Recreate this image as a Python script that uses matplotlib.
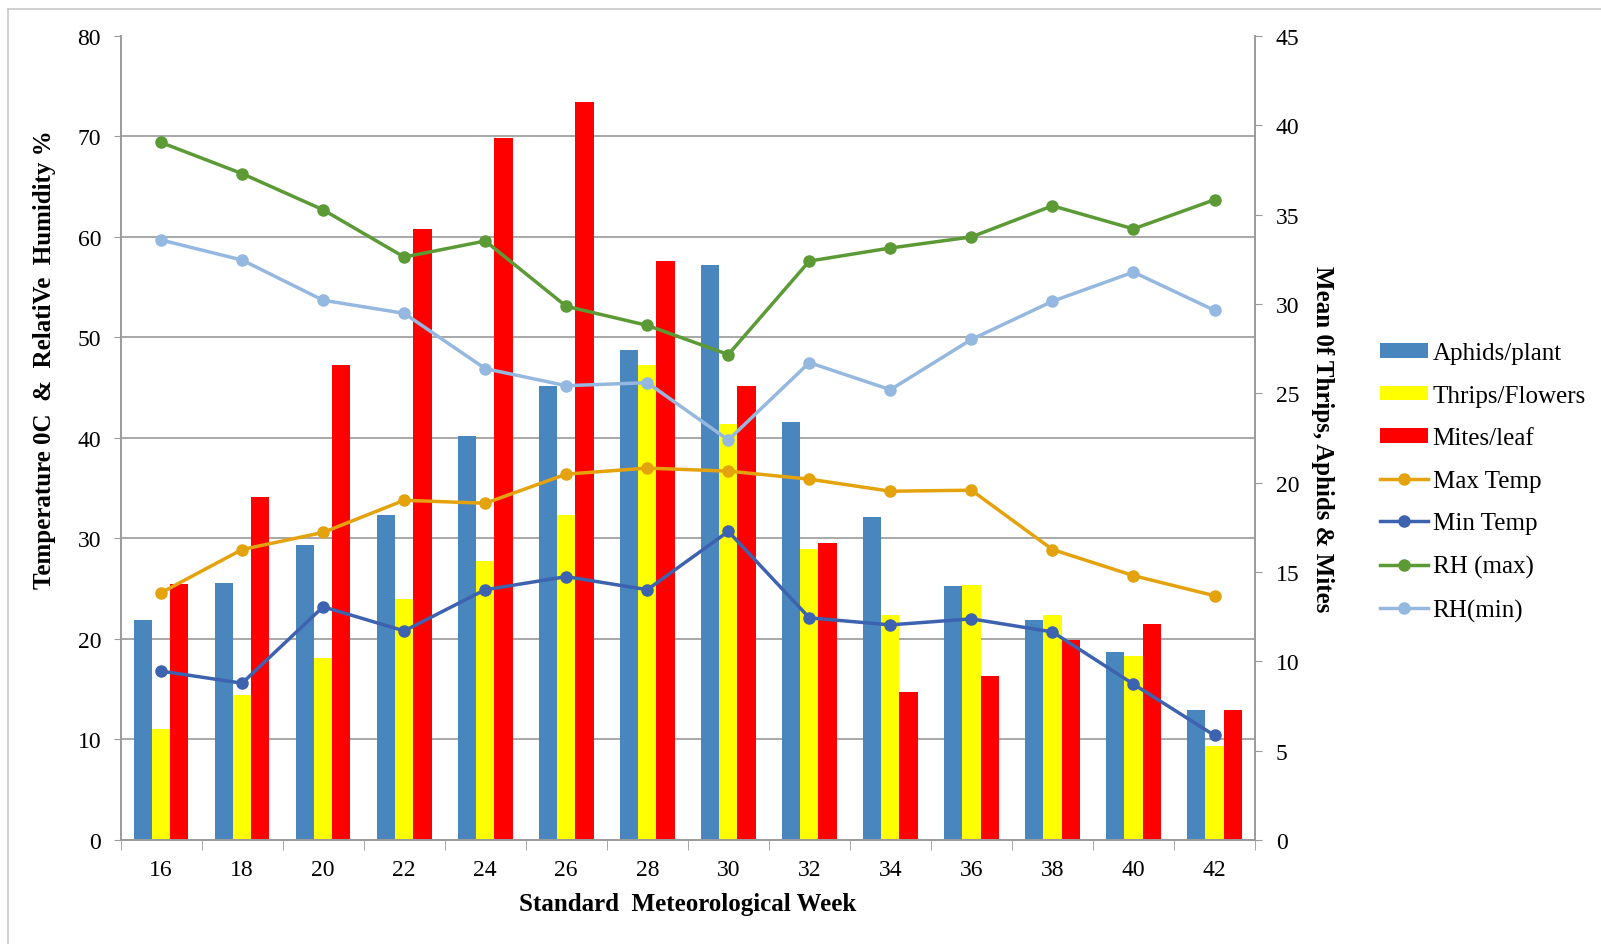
import matplotlib
matplotlib.use("Agg")
import matplotlib.pyplot as plt
from matplotlib.lines import Line2D
import numpy as np

plt.rcParams['font.family'] = ['Liberation Serif', 'DejaVu Serif']

# data
weeks = [16, 18, 20, 22, 24, 26, 28, 30, 32, 34, 36, 38, 40, 42]
# bars, right axis (mean count)
aphids = [12.3, 14.4, 16.5, 18.2, 22.6, 25.4, 27.4, 32.2, 23.4, 18.1, 14.2, 12.3, 10.5, 7.3]
thrips = [6.2, 8.1, 10.2, 13.5, 15.6, 18.2, 26.6, 23.3, 16.3, 12.6, 14.25, 12.6, 10.3, 5.25]
mites = [14.3, 19.2, 26.6, 34.2, 39.3, 41.3, 32.4, 25.4, 16.6, 8.3, 9.2, 11.2, 12.1, 7.3]
# lines, left axis (temperature, RH)
max_temp = [24.6, 28.9, 30.6, 33.8, 33.5, 36.4, 37.0, 36.7, 35.9, 34.7, 34.8, 28.9, 26.3, 24.3]
min_temp = [16.8, 15.6, 23.2, 20.8, 24.9, 26.2, 24.9, 30.7, 22.1, 21.4, 22.0, 20.7, 15.5, 10.4]
rh_max = [69.4, 66.3, 62.7, 58.0, 59.6, 53.1, 51.2, 48.3, 57.6, 58.9, 60.0, 63.1, 60.8, 63.7]
rh_min = [59.7, 57.7, 53.7, 52.4, 46.9, 45.2, 45.5, 39.8, 47.5, 44.8, 49.8, 53.6, 56.5, 52.7]

grey = '#9a9a9a'
fig = plt.figure(figsize=(16.01, 9.45), dpi=100)
ax = fig.add_axes([0.0753, 0.1101, 0.7086, 0.8508])

x = np.arange(len(weeks))
w = 0.225
b1 = ax.bar(x - w, aphids, w, color='#4a86be', label='Aphids/plant')
b2 = ax.bar(x, thrips, w, color='#ffff00', label='Thrips/Flowers')
b3 = ax.bar(x + w, mites, w, color='#ff0000', label='Mites/leaf')
ax.set_ylim(0, 45)
ax.set_xlim(-0.5, len(weeks) - 0.5)
ax.set_yticks(np.arange(0, 46, 5))
ax.set_yticks(np.linspace(0, 45, 9), minor=True)
ax.grid(True, which='minor', axis='y', color=grey, lw=1.2)
ax.set_axisbelow(True)
ax.set_xticks(x)
ax.set_xticklabels([str(v) for v in weeks])
ax.set_xticks(np.arange(-0.5, len(weeks)), minor=True)
ax.tick_params(axis='x', which='major', length=0, labelsize=17, pad=14)
ax.tick_params(axis='x', which='minor', length=7, color=grey)

ax2 = ax.twinx()
mk = dict(marker='o', markersize=8, lw=2.5)
l1, = ax2.plot(x, max_temp, color='#e4a20c', label='Max Temp', **mk)
l2, = ax2.plot(x, min_temp, color='#3c62b0', label='Min Temp', **mk)
l3, = ax2.plot(x, rh_max, color='#5b9a35', label='RH (max)', **mk)
l4, = ax2.plot(x, rh_min, color='#95b8e0', label='RH(min)', **mk)
ax2.set_ylim(0, 80)
ax2.set_yticks(np.arange(0, 81, 10))

# swap sides: counts on the right, temperature / RH on the left
ax.yaxis.tick_right()
ax2.yaxis.tick_left()
ax.tick_params(axis='y', which='minor', length=0, left=False, right=False)
ax.tick_params(axis='y', which='major', length=5, color=grey, labelsize=17, pad=10)
ax2.tick_params(axis='y', length=5, color=grey, labelsize=17, pad=9)

for a in (ax, ax2):
    for s in a.spines.values():
        s.set_color(grey)
        s.set_linewidth(1.2)
    a.spines['top'].set_visible(False)

fig.text(45 / 1601, 1 - 360 / 945, 'Temperature 0C  &  RelatiVe  Humidity %',
         rotation=90, ha='center', va='center', fontsize=18, fontweight='bold')
fig.text(1322 / 1601, 1 - 439 / 945, 'Mean 0f Thrips, Aphids & Mites',
         rotation=270, ha='center', va='center', fontsize=18, fontweight='bold')
fig.text(688 / 1601, 1 - 905 / 945, 'Standard  Meteorological Week',
         ha='center', va='center', fontsize=18, fontweight='bold')

handles = [b1, b2, b3, l1, l2, l3, l4]
fig.legend(handles, [h.get_label() for h in handles], loc='center left',
           bbox_to_anchor=(1380 / 1601, 1 - 483 / 945), frameon=False,
           fontsize=18, handlelength=1.9, handleheight=0.5, handletextpad=0.2,
           labelspacing=0.82, borderpad=0, borderaxespad=0)

# outer frame
fig.add_artist(Line2D([8 / 1601, 8 / 1601], [0, 1 - 10 / 945], color='#c8c8c8', lw=1.2))
fig.add_artist(Line2D([8 / 1601, 1], [1 - 10 / 945, 1 - 10 / 945], color='#c8c8c8', lw=1.2))

fig.savefig('out.png', dpi=100)
